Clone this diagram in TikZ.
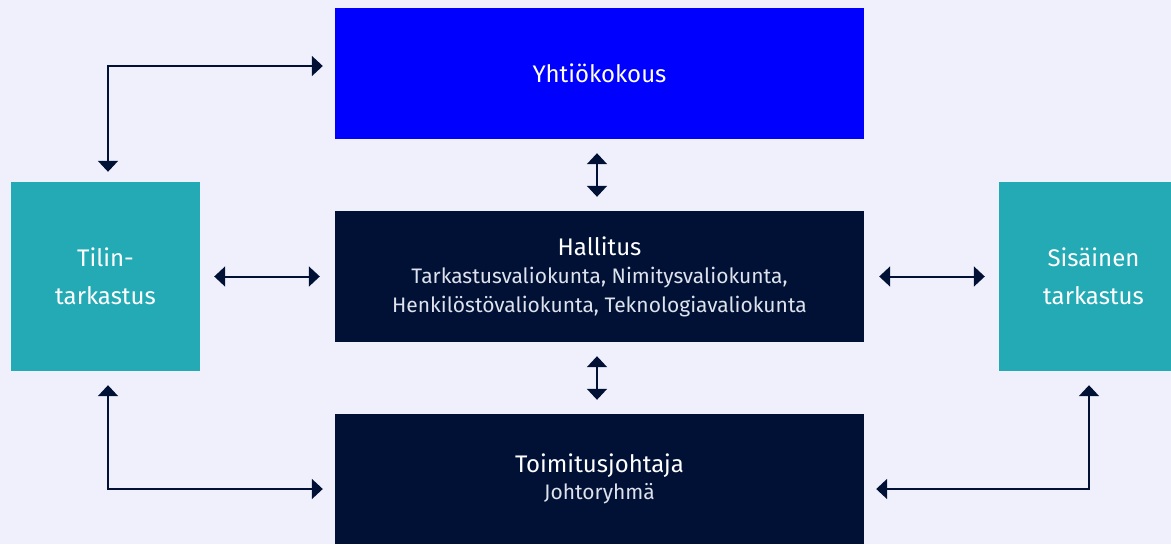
\documentclass[tikz,border=0pt]{standalone}
\usepackage{fontspec}
\setmainfont{Fira Sans}
\usetikzlibrary{arrows.meta}

\definecolor{pagebg}{RGB}{240,240,252}
\definecolor{navy}{RGB}{0,17,53}
\definecolor{pureblue}{RGB}{0,0,255}
\definecolor{teal}{RGB}{35,170,181}
\definecolor{subgrey}{RGB}{222,226,236}

\tikzset{
	board/.style={fill=#1, text=white, inner sep=0pt, align=center},
	wide/.style={minimum width=529pt, minimum height=131pt},
	square/.style={minimum width=189pt, minimum height=189pt, font=\fontsize{24}{38}\selectfont},
	title/.style={font=\fontsize{24}{28}\selectfont},
	link/.style={<->, >={Triangle[length=11pt,width=20pt]}, line width=2pt, draw=navy},
}

\newcommand{\subline}[1]{{\color{subgrey}\fontsize{21}{29}\selectfont #1}}

\begin{document}
\begin{tikzpicture}[x=1pt, y=-1pt]
	\useasboundingbox[fill=pagebg] (0,0) rectangle (1171,544);

	\node[board=pureblue, wide, title] (yhtio) at (599.5,73.5) {Yhtiökokous};
	\node[board=navy, wide, title] (hallitus) at (599.5,276.5) {Hallitus\\[0pt]
		\subline{Tarkastusvaliokunta, Nimitysvaliokunta,}\\[1pt]
		\subline{Henkilöstövaliokunta, Teknologiavaliokunta}};
	\node[board=navy, wide, minimum height=130pt, title] (toimitus) at (599.5,479) {Toimitusjohtaja\\[-1pt]
		\subline{Johtoryhmä}};
	\node[board=teal, square] (tilin) at (105.5,276.5) {Tilin-\\tarkastus};
	\node[board=teal, square] (sisainen) at (1093.5,276.5) {Sisäinen\\tarkastus};

	% elbow connectors
	\draw[link, shorten <=10pt, shorten >=12pt] ([xshift=2.5pt]tilin.north) |- ([yshift=7.5pt]yhtio.west);
	\draw[link, shorten <=14pt, shorten >=12pt] ([xshift=2.5pt]tilin.south) |- ([yshift=-10pt]toimitus.west);
	\draw[link, shorten <=14pt, shorten >=12pt] ([xshift=-4.5pt]sisainen.south) |- ([yshift=-10pt]toimitus.east);

	% straight connectors
	\draw[link, shorten <=14pt, shorten >=14pt] ([xshift=-2.5pt]yhtio.south) -- ([xshift=-2.5pt]hallitus.north);
	\draw[link, shorten <=14pt, shorten >=14pt] ([xshift=-2.5pt]hallitus.south) -- ([xshift=-2.5pt]toimitus.north);
	\draw[link, shorten <=14pt, shorten >=15pt] (tilin) -- (hallitus);
	\draw[link, shorten <=15pt, shorten >=14pt] (hallitus) -- (sisainen);
\end{tikzpicture}
\end{document}
